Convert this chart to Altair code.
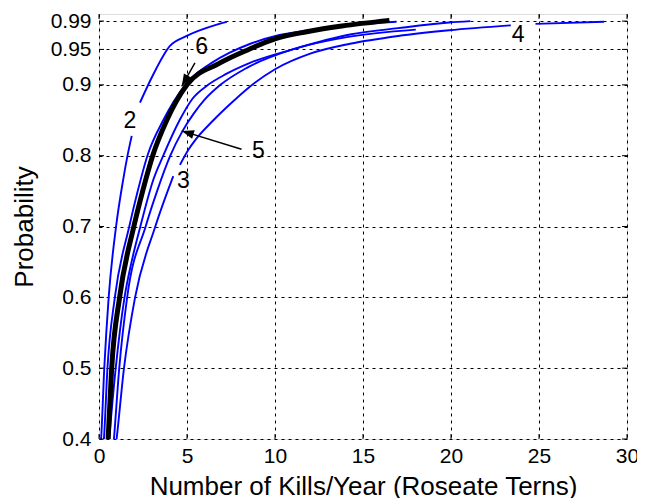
import math
import altair as alt
import pandas as pd

FONT = "Liberation Sans"
W, H = 528, 425

x_ticks = [0, 5, 10, 15, 20, 25, 30]
y_ticks = [0.4, 0.5, 0.6, 0.7, 0.8, 0.9, 0.95, 0.99]

# Curve 2 (two pieces, broken near its label)
c2_x1 = [0.02, 0.12, 0.30, 0.55, 0.97, 1.38, 1.62, 1.86]
c2_p1 = [0.37, 0.40, 0.50, 0.60, 0.70, 0.767, 0.80, 0.828]
c2_x2 = [2.33, 3.09, 4.03, 4.98, 6.69, 7.26]
c2_p2 = [0.875, 0.915, 0.955, 0.969, 0.985, 0.989]

# Curve 6
c6_x = [0.15, 0.28, 0.48, 0.90, 1.72, 2.20, 2.75, 3.65, 4.85, 5.60, 6.40, 7.40, 8.60, 10.2, 12.2, 14.6, 16.9]
c6_p = [0.37, 0.40, 0.50, 0.60, 0.70, 0.75, 0.80, 0.85, 0.898, 0.917, 0.931, 0.945, 0.958, 0.970, 0.978, 0.985, 0.989]

# Curve between the black one and curve 5
ca_x = [0.48, 0.58, 0.95, 1.45, 1.85, 2.35, 3.10, 3.65, 4.60, 5.30, 6.20, 7.20, 8.58, 11.0, 14.26, 17.0, 19.9, 21.1]
ca_p = [0.37, 0.40, 0.50, 0.60, 0.65, 0.70, 0.767, 0.80, 0.851, 0.88, 0.90, 0.915, 0.931, 0.95, 0.971, 0.980, 0.988, 0.990]

# Curve 5
c5_x = [0.75, 0.85, 1.15, 1.60, 2.65, 3.30, 4.05, 4.75, 5.40, 6.00, 6.90, 8.40, 11.0, 14.0, 18.0]
c5_p = [0.37, 0.40, 0.50, 0.60, 0.70, 0.75, 0.80, 0.835, 0.86, 0.879, 0.90, 0.924, 0.95, 0.967, 0.978]

# Curve 3 (pieces broken at labels)
c3_x1 = [0.85, 1.00, 1.42, 2.05, 3.20, 4.22]
c3_p1 = [0.37, 0.40, 0.50, 0.60, 0.70, 0.771]
c3_x2 = [4.60, 5.07, 5.50, 6.50, 7.50, 8.50, 10.0, 12.0, 14.26, 17.0, 19.9, 23.4]
c3_p2 = [0.787, 0.808, 0.823, 0.850, 0.874, 0.896, 0.922, 0.944, 0.958, 0.969, 0.977, 0.984]
c3_x3 = [24.8, 28.7]
c3_p3 = [0.986, 0.989]

# Thick black curve
cb_x = [0.45, 0.52, 0.72, 1.17, 1.98, 2.48, 3.05, 3.85, 5.00, 6.80, 8.50, 10.0, 11.8, 13.8, 16.5]
cb_p = [0.37, 0.40, 0.50, 0.60, 0.70, 0.75, 0.80, 0.85, 0.90, 0.93, 0.95, 0.965, 0.975, 0.983, 0.991]

blue_pieces = [
    ("2a", c2_x1, c2_p1), ("2b", c2_x2, c2_p2),
    ("6", c6_x, c6_p),
    ("a", ca_x, ca_p),
    ("5", c5_x, c5_p),
    ("3a", c3_x1, c3_p1), ("3b", c3_x2, c3_p2), ("3c", c3_x3, c3_p3),
]

rows = []
for seg, xs, ps in blue_pieces:
    for i, (xv, pv) in enumerate(zip(xs, ps)):
        rows.append({"seg": seg, "i": i, "x": xv, "p": pv})
blue_df = pd.DataFrame(rows)
black_df = pd.DataFrame({"i": range(len(cb_x)), "x": cb_x, "p": cb_p})

label_text = ["2", "3", "4", "5", "6"]
label_x = [1.76, 4.79, 23.82, 9.05, 5.83]
label_p = [0.849, 0.764, 0.971, 0.807, 0.954]
labels_df = pd.DataFrame({"t": label_text, "x": label_x, "p": label_p})

arrow_tail_x = [5.45, 8.10]
arrow_tail_p = [0.931, 0.809]
arrow_tip_x = [4.70, 4.70]
arrow_tip_p = [0.898, 0.835]
ang = []
for tx, tp, hx, hp in zip(arrow_tail_x, arrow_tail_p, arrow_tip_x, arrow_tip_p):
    dx = (hx - tx) * W / 30.0
    dy = -(hp - tp) * H / 0.6
    ang.append(math.degrees(math.atan2(dx, -dy)) % 360)
arrows_df = pd.DataFrame({"x": arrow_tail_x, "p": arrow_tail_p,
                          "x2": arrow_tip_x, "p2": arrow_tip_p, "ang": ang})

xscale = alt.Scale(domain=[0, 30], nice=False, zero=False)
yscale = alt.Scale(domain=[0.4, 1.0], nice=False, zero=False)

xaxis = alt.Axis(values=x_ticks, format="d", grid=True, gridColor="black",
                 gridDash=[3, 4], gridWidth=1, gridOpacity=1, ticks=False, domain=False,
                 labelFont=FONT, labelFontSize=21, labelColor="black", labelPadding=6,
                 labelFlush=False, labelOverlap=False,
                 title="Number of Kills/Year (Roseate Terns)", titleFont=FONT,
                 titleFontSize=26, titleFontWeight="normal", titleColor="black",
                 titleX=W / 2, titleY=47, titleAlign="center", titleBaseline="middle")
yaxis = alt.Axis(values=y_ticks, format="~g", grid=True, gridColor="black",
                 gridDash=[3, 4], gridWidth=1, gridOpacity=1, ticks=False, domain=False,
                 labelFont=FONT, labelFontSize=21, labelColor="black", labelPadding=8,
                 labelFlush=False, labelOverlap=False,
                 title="Probability", titleFont=FONT, titleFontSize=26,
                 titleFontWeight="normal", titleColor="black", titleAngle=270,
                 titleX=-75, titleY=H / 2, titleAlign="center", titleBaseline="middle")

base_x = alt.X("x:Q", scale=xscale, axis=xaxis)
base_y = alt.Y("p:Q", scale=yscale, axis=yaxis)

blue = alt.Chart(blue_df).mark_line(color="#0000ff", strokeWidth=1.9, clip=True,
                                    interpolate="monotone").encode(
    x=base_x, y=base_y, detail="seg:N", order="i:Q")
black = alt.Chart(black_df).mark_line(color="black", strokeWidth=5, clip=True,
                                      interpolate="monotone").encode(
    x=alt.X("x:Q", scale=xscale), y=alt.Y("p:Q", scale=yscale), order="i:Q")

# inward tick marks on all four sides
xt_df = pd.DataFrame({"x": x_ticks})
yt_df = pd.DataFrame({"p": y_ticks})
tick_b = alt.Chart(xt_df).mark_rule(color="black", strokeWidth=1).encode(
    x=alt.X("x:Q", scale=xscale), y=alt.value(H), y2=alt.value(H - 5))
tick_t = alt.Chart(xt_df).mark_rule(color="black", strokeWidth=1).encode(
    x=alt.X("x:Q", scale=xscale), y=alt.value(0), y2=alt.value(5))
tick_l = alt.Chart(yt_df).mark_rule(color="black", strokeWidth=1).encode(
    y=alt.Y("p:Q", scale=yscale), x=alt.value(0), x2=alt.value(5))
tick_r = alt.Chart(yt_df).mark_rule(color="black", strokeWidth=1).encode(
    y=alt.Y("p:Q", scale=yscale), x=alt.value(W), x2=alt.value(W - 5))

labels = alt.Chart(labels_df).mark_text(font=FONT, fontSize=23, color="black",
                                        align="center", baseline="middle").encode(
    x=alt.X("x:Q", scale=xscale), y=alt.Y("p:Q", scale=yscale), text="t:N")

arrow_lines = alt.Chart(arrows_df).mark_rule(color="black", strokeWidth=1.5).encode(
    x=alt.X("x:Q", scale=xscale), y=alt.Y("p:Q", scale=yscale),
    x2="x2:Q", y2="p2:Q")
arrow_heads = alt.Chart(arrows_df).mark_point(
    shape="M0,0 L0.36,1 L-0.36,1 Z", filled=True, color="black", opacity=1,
    size=600, strokeWidth=0).encode(
    x=alt.X("x2:Q", scale=xscale), y=alt.Y("p2:Q", scale=yscale),
    angle=alt.Angle("ang:Q", scale=None))

chart = alt.layer(blue, black, tick_b, tick_t, tick_l, tick_r,
                  arrow_lines, arrow_heads, labels).properties(
    width=W, height=H,
    autosize=alt.AutoSizeParams(type="none"),
    padding={"left": 91, "top": 6, "right": 10, "bottom": 60},
).configure_view(stroke="black", strokeWidth=1).configure(background="white")

chart.save("out.html", embed_options={"renderer": "svg", "actions": False})
